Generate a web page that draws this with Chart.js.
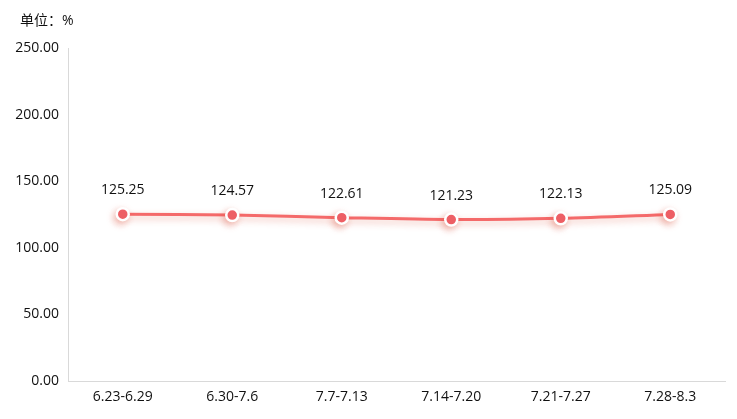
<!DOCTYPE html>
<html>
<head>
<meta charset="utf-8">
<script src="https://cdn.jsdelivr.net/npm/chart.js@4"></script>
<style>
  body { margin: 0; background: #fff; }
  #wrap { width: 737px; height: 419px; position: relative; }
</style>
</head>
<body>
<div id="wrap"><canvas id="mycanvas"></canvas></div>
<script>
var weeks = ['6.23-6.29', '6.30-7.6', '7.7-7.13', '7.14-7.20', '7.21-7.27', '7.28-8.3'];
var rates = [125.25, 124.57, 122.61, 121.23, 122.13, 125.09];
var yTicks = [0, 50, 100, 150, 200, 250];

var FONT = '"Open Sans", "Noto Sans CJK SC", sans-serif';

// shadow under the line
var lineShadow = {
  id: 'lineShadow',
  beforeDatasetDraw: function(chart) {
    var ctx = chart.ctx;
    ctx.save();
    ctx.shadowColor = 'rgba(220, 90, 70, 0.4)';
    ctx.shadowBlur = 7;
    ctx.shadowOffsetX = -2;
    ctx.shadowOffsetY = 3;
  },
  afterDatasetDraw: function(chart) {
    chart.ctx.restore();
  }
};

// value labels + unit text
var labels = {
  id: 'labels',
  afterDraw: function(chart) {
    var ctx = chart.ctx;
    ctx.save();
    ctx.fillStyle = '#111';
    ctx.font = '14px ' + FONT;
    ctx.textAlign = 'center';
    ctx.textBaseline = 'middle';
    var meta = chart.getDatasetMeta(0);
    meta.data.forEach(function(pt, i) {
      ctx.fillText(rates[i].toFixed(2), pt.x, pt.y - 24);
    });
    ctx.textAlign = 'left';
    ctx.font = '14px ' + FONT;
    ctx.fillText('单位：%', 20, 21);
    ctx.restore();
  }
};

var ctx = document.getElementById('mycanvas');
new Chart(ctx, {
  type: 'line',
  data: {
    labels: weeks,
    datasets: [{
      data: rates,
      borderColor: '#f46a6a',
      borderWidth: 3,
      tension: 0.3,
      pointRadius: 6,
      pointBorderWidth: 2.5,
      pointBorderColor: '#fff',
      pointBackgroundColor: '#f0606a'
    }]
  },
  options: {
    responsive: true,
    maintainAspectRatio: false,
    animation: false,
    layout: { padding: { top: 48, right: 12, left: 0, bottom: 0 } },
    plugins: { legend: { display: false }, tooltip: { enabled: false } },
    scales: {
      x: {
        offset: true,
        grid: { display: false, drawTicks: false },
        border: { color: '#d9d9d9', width: 1 },
        ticks: { color: '#111', font: { size: 14, family: FONT }, padding: 8, maxRotation: 0 },
        afterFit: function(s) { s.height = 38; }
      },
      y: {
        min: 0,
        max: 250,
        afterBuildTicks: function(s) { s.ticks = yTicks.map(function(v) { return { value: v }; }); },
        grid: { display: false, drawTicks: false },
        border: { color: '#d9d9d9', width: 1 },
        ticks: {
          color: '#111',
          font: { size: 14, family: FONT },
          padding: 9,
          callback: function(v) { return Number(v).toFixed(2); }
        },
        afterFit: function(s) { s.width = 68; }
      }
    }
  },
  plugins: [lineShadow, labels]
});
</script>
</body>
</html>
